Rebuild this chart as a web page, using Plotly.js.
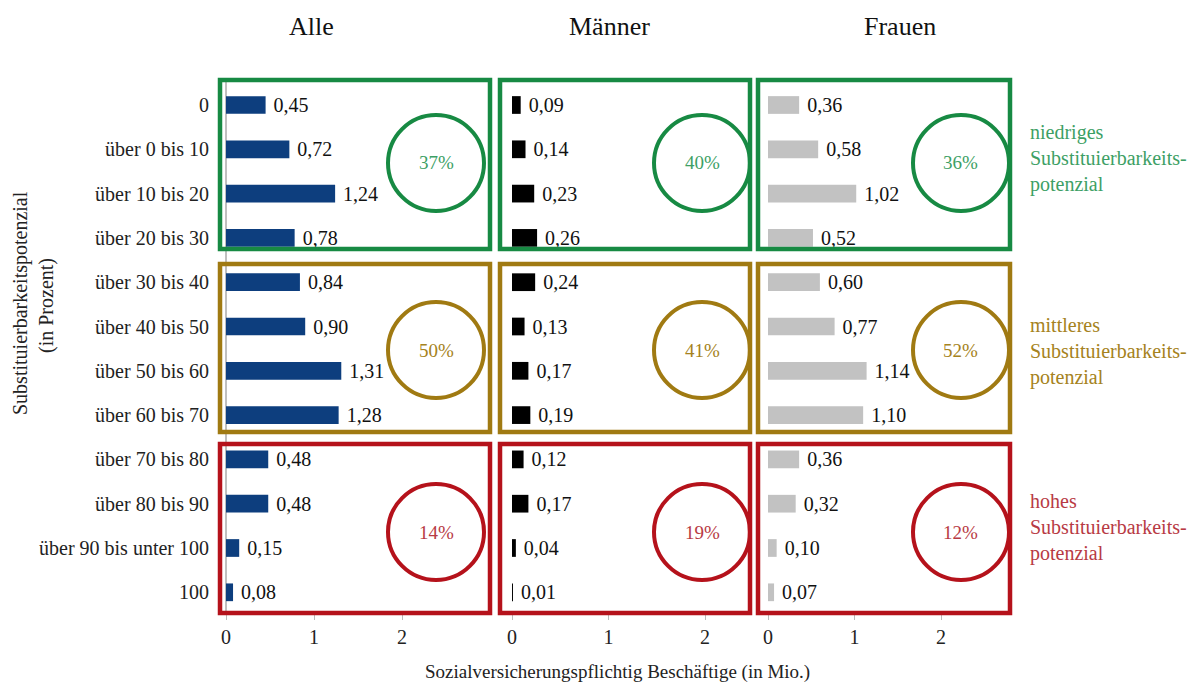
<!DOCTYPE html>
<html>
<head>
<meta charset="utf-8">
<script src="https://cdn.plot.ly/plotly-3.0.1.min.js"></script>
<style>html,body{margin:0;padding:0;background:#fff;}#chart{width:1203px;height:684px;}</style>
</head>
<body>
<div id="chart"></div>
<script>
// ---- data ----
const categories = ["0","über 0 bis 10","über 10 bis 20","über 20 bis 30","über 30 bis 40","über 40 bis 50","über 50 bis 60","über 60 bis 70","über 70 bis 80","über 80 bis 90","über 90 bis unter 100","100"];
const alle   = [0.45,0.72,1.24,0.78,0.84,0.90,1.31,1.28,0.48,0.48,0.15,0.08];
const maenner= [0.09,0.14,0.23,0.26,0.24,0.13,0.17,0.19,0.12,0.17,0.04,0.01];
const frauen = [0.36,0.58,1.02,0.52,0.60,0.77,1.14,1.10,0.36,0.32,0.10,0.07];
const panelTitles = ["Alle","Männer","Frauen"];
const groupLabels = ["niedriges<br>Substituierbarkeits-<br>potenzial","mittleres<br>Substituierbarkeits-<br>potenzial","hohes<br>Substituierbarkeits-<br>potenzial"];
const groupShares = [["37%","40%","36%"],["50%","41%","52%"],["14%","19%","12%"]];
const xTickVals = [0,1,2];
const xTitle = "Sozialversicherungspflichtig Beschäftige (in Mio.)";
const yTitle = "Substituierbarkeitspotenzial";
const yTitle2 = "(in Prozent)";

// ---- styling / geometry ----
const W = 1203, H = 684, MT = 70, MB = 70;
const PH = H - MT - MB;
const PX = x => x / W;
const PY = y => (H - MB - y) / PH;
const FONT = "Liberation Serif";
const barColors = ["#0d3e7e","#000000","#c2c2c2"];
const groupColors = ["#178a43","#a07a12","#b5121b"];
const shareColors = ["#3d9f65","#a58220","#b83a44"];
const panels = [
  {left:220, right:490, zero:226, scale:88, title:311},
  {left:500, right:750, zero:512, scale:96.5, title:609},
  {left:758, right:1010, zero:768, scale:86.5, title:900}
];
const boxesY = [[80,249],[264,432],[444,613]];
const circleCX = [436,702,961];
const circleCY = [163,350,532];
const R = 48;
// category index range matching row spacing (first row at y=105, 44.3 px per row)
const yRange = [(H - MB - 105) / 44.3, (MT - 105) / 44.3];

const series = [alle, maenner, frauen];
const traces = series.map((vals, i) => ({
  type: "bar", orientation: "h",
  x: vals, y: categories,
  xaxis: i === 0 ? "x" : "x" + (i + 1), yaxis: "y",
  marker: {color: barColors[i]},
  width: 0.4,
  texttemplate: "\u00a0%{x:.2f}",
  textposition: "outside",
  textfont: {family: FONT, size: 20, color: "#111"},
  constraintext: "none",
  cliponaxis: false,
  hoverinfo: "skip",
  showlegend: false
}));

const axisCommon = {
  tickvals: xTickVals, ticks: "outside", ticklen: 5, tickcolor: "#bbb",
  tickfont: {family: FONT, size: 20, color: "#222"},
  showgrid: false, showline: false, zeroline: false, anchor: "y", fixedrange: true
};
const layout = {
  width: W, height: H,
  margin: {l: 0, r: 0, t: MT, b: MB, pad: 0},
  paper_bgcolor: "#fff", plot_bgcolor: "#fff",
  separators: ",.",
  showlegend: false,
  font: {family: FONT},
  yaxis: {
    type: "category", categoryorder: "array", categoryarray: categories,
    range: yRange, anchor: "x",
    showgrid: false, zeroline: false, showline: false, ticks: "",
    ticklabelstandoff: 10,
    tickfont: {family: FONT, size: 20, color: "#222"},
    domain: [0, 1], fixedrange: true
  },
  shapes: [{
    type: "line", xref: "x", yref: "paper", x0: 0, x1: 0,
    y0: PY(boxesY[2][1]), y1: PY(boxesY[0][0]),
    line: {color: "#aaa", width: 1.5}, layer: "below"
  }],
  annotations: []
};
panels.forEach((p, i) => {
  const key = i === 0 ? "xaxis" : "xaxis" + (i + 1);
  layout[key] = Object.assign({}, axisCommon, {
    domain: [PX(p.left), PX(p.right)],
    range: [(p.left - p.zero) / p.scale, (p.right - p.zero) / p.scale]
  });
  layout.annotations.push({
    text: panelTitles[i], xref: "paper", yref: "paper",
    x: PX(p.title), y: PY(27),
    showarrow: false, xanchor: "center", yanchor: "middle",
    font: {family: FONT, size: 26, color: "#111"}
  });
  boxesY.forEach((b, g) => {
    layout.shapes.push({
      type: "rect", xref: "paper", yref: "paper",
      x0: PX(p.left), x1: PX(p.right), y0: PY(b[1]), y1: PY(b[0]),
      line: {color: groupColors[g], width: 4.5}, fillcolor: "rgba(0,0,0,0)"
    });
    layout.shapes.push({
      type: "circle", xref: "paper", yref: "paper",
      x0: PX(circleCX[i] - R), x1: PX(circleCX[i] + R),
      y0: PY(circleCY[g] + R), y1: PY(circleCY[g] - R),
      line: {color: groupColors[g], width: 4}, fillcolor: "rgba(0,0,0,0)"
    });
    layout.annotations.push({
      text: groupShares[g][i], xref: "paper", yref: "paper",
      x: PX(circleCX[i]), y: PY(circleCY[g]), showarrow: false,
      xanchor: "center", yanchor: "middle",
      font: {family: FONT, size: 19, color: shareColors[g]}
    });
  });
});
const labelY = [158, 352, 527];
groupLabels.forEach((t, g) => {
  layout.annotations.push({
    text: t, xref: "paper", yref: "paper", x: PX(1028), y: PY(labelY[g]),
    showarrow: false, xanchor: "left", yanchor: "middle", align: "left",
    font: {family: FONT, size: 20, color: shareColors[g]}
  });
});
layout.annotations.push({
  text: xTitle, xref: "paper", yref: "paper", x: PX(617), y: PY(672),
  showarrow: false, xanchor: "center", yanchor: "middle",
  font: {family: FONT, size: 19, color: "#222"}
});
layout.annotations.push({
  text: yTitle, xref: "paper", yref: "paper", x: PX(20), y: PY(303),
  showarrow: false, textangle: -90, xanchor: "center", yanchor: "middle",
  font: {family: FONT, size: 20, color: "#222"}
});
layout.annotations.push({
  text: yTitle2, xref: "paper", yref: "paper", x: PX(46), y: PY(306),
  showarrow: false, textangle: -90, xanchor: "center", yanchor: "middle",
  font: {family: FONT, size: 20, color: "#222"}
});

Plotly.newPlot("chart", traces, layout, {displayModeBar: false, staticPlot: true});
</script>
</body>
</html>
